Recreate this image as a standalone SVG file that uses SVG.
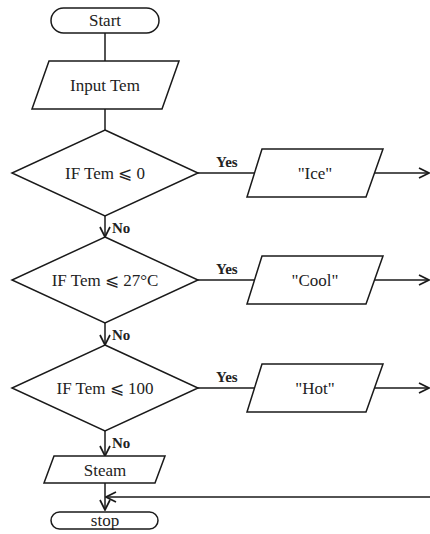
<svg xmlns="http://www.w3.org/2000/svg" width="430" height="534" viewBox="0 0 430 534">
<defs>
<style>
.s{fill:#fff;stroke:#1a1a1a;stroke-width:1.5}
.t{font-family:"Liberation Serif","DejaVu Serif",serif;font-size:17px;fill:#222;text-anchor:middle}
.b{font-family:"Liberation Serif","DejaVu Serif",serif;font-size:15px;font-weight:bold;fill:#222}
.c{fill:none;stroke:#1a1a1a;stroke-width:1.5}
</style>
<marker id="a" viewBox="0 0 12 12" refX="11" refY="6" markerWidth="12" markerHeight="12" markerUnits="userSpaceOnUse" orient="auto">
<path d="M1,1 L11,6 L1,11" fill="none" stroke="#1a1a1a" stroke-width="1.7"/>
</marker>
</defs>
<rect width="430" height="534" fill="#fff"/>
<g id="connectors">
<line class="c" x1="105" y1="33" x2="105" y2="61"/>
<line class="c" x1="105" y1="109" x2="105" y2="130"/>
<line class="c" x1="105" y1="216" x2="105" y2="237" marker-end="url(#a)"/>
<line class="c" x1="105" y1="323" x2="105" y2="345" marker-end="url(#a)"/>
<line class="c" x1="105" y1="431" x2="105" y2="456" marker-end="url(#a)"/>
<line class="c" x1="105" y1="483" x2="105" y2="510" marker-end="url(#a)"/>
<line class="c" x1="198" y1="173" x2="255" y2="173"/>
<line class="c" x1="375" y1="173" x2="429" y2="173" marker-end="url(#a)"/>
<line class="c" x1="198" y1="280" x2="255" y2="280"/>
<line class="c" x1="375" y1="280" x2="429" y2="280" marker-end="url(#a)"/>
<line class="c" x1="198" y1="388" x2="255" y2="388"/>
<line class="c" x1="375" y1="388" x2="429" y2="388" marker-end="url(#a)"/>
<line class="c" x1="430" y1="497" x2="106" y2="497" marker-end="url(#a)"/>
<text class="b" x="216" y="167">Yes</text>
<text class="b" x="216" y="274">Yes</text>
<text class="b" x="216" y="382">Yes</text>
<text class="b" x="112" y="233">No</text>
<text class="b" x="112" y="340">No</text>
<text class="b" x="112" y="448">No</text>
</g>
<g id="start">
<rect class="s" x="51" y="8" width="108" height="25" rx="12.5"/>
<text class="t" x="105" y="26">Start</text>
</g>
<g id="input">
<polygon class="s" points="49,61 179,61 162,109 32,109"/>
<text class="t" x="105" y="91">Input Tem</text>
</g>
<g id="if0">
<polygon class="s" points="105,130 198,173 105,216 12,173"/>
<text class="t" x="105" y="179">IF Tem ⩽ 0</text>
</g>
<g id="ice">
<polygon class="s" points="262,149 383,149 366,197 247,197"/>
<text class="t" x="315" y="179">"Ice"</text>
</g>
<g id="if27">
<polygon class="s" points="105,237 198,280 105,323 12,280"/>
<text class="t" x="105" y="286">IF Tem ⩽ 27°C</text>
</g>
<g id="cool">
<polygon class="s" points="262,256 383,256 366,304 247,304"/>
<text class="t" x="315" y="286">"Cool"</text>
</g>
<g id="if100">
<polygon class="s" points="105,345 198,388 105,431 12,388"/>
<text class="t" x="105" y="394">IF Tem ⩽ 100</text>
</g>
<g id="hot">
<polygon class="s" points="262,364 383,364 366,412 247,412"/>
<text class="t" x="315" y="394">"Hot"</text>
</g>
<g id="steam">
<polygon class="s" points="54,456 165,456 155,483 44,483"/>
<text class="t" x="105" y="476">Steam</text>
</g>
<g id="stop">
<rect class="s" x="51" y="512" width="107" height="17" rx="8.5"/>
<text class="t" x="105" y="526">stop</text>
</g>
</svg>
